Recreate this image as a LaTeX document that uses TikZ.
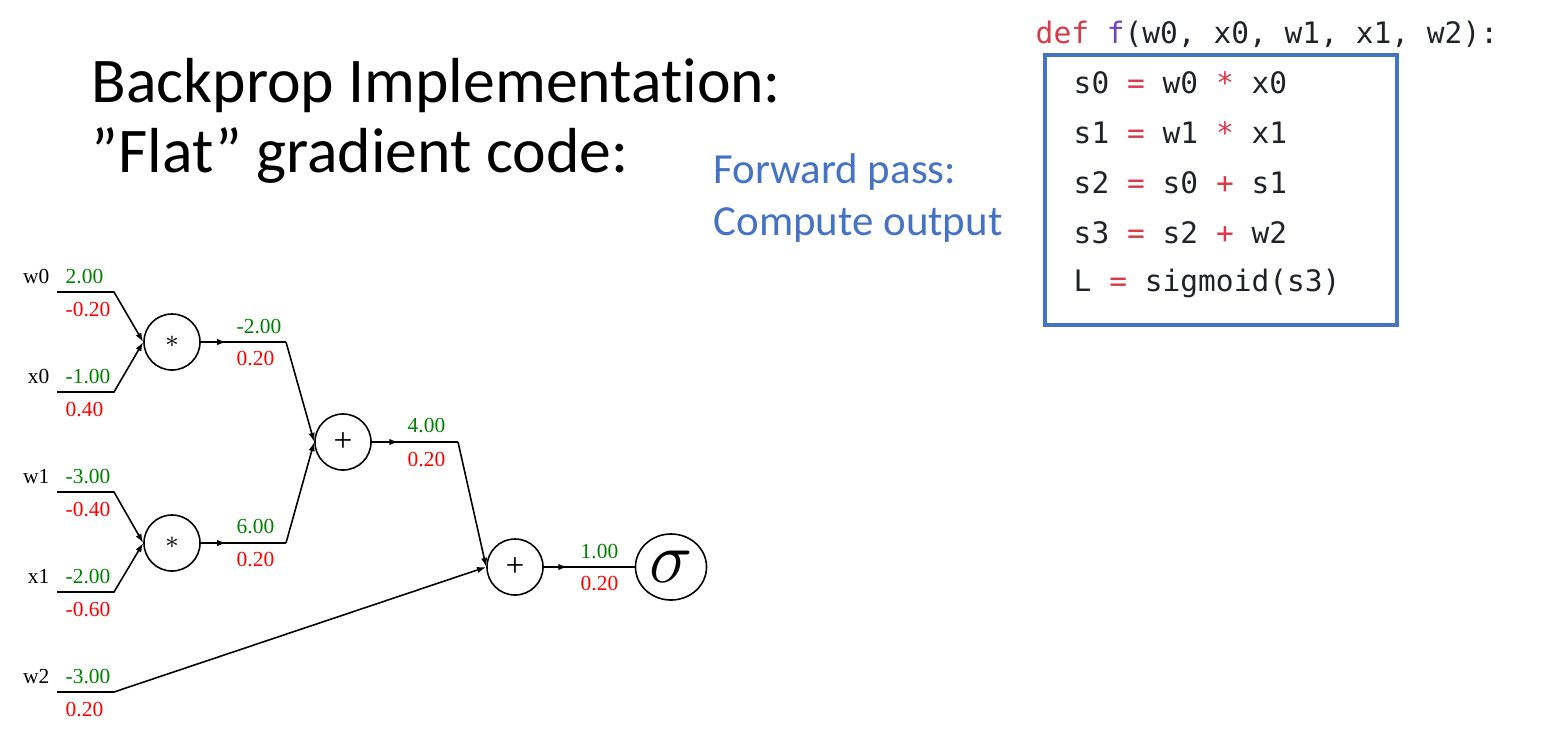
\documentclass[tikz,border=0pt]{standalone}
\usepackage{fontspec}
\usetikzlibrary{positioning}
\usetikzlibrary{arrows.meta}
\usetikzlibrary{decorations.markings}
\usetikzlibrary{shapes.geometric}
\newfontfamily\titlefont{Carlito}[Ligatures={NoCommon}]
\newfontfamily\codefont{DejaVu Sans Mono}[WordSpace={1,0,0}]
\newfontfamily\graphfont{Liberation Serif}
\definecolor{mblue}{HTML}{4472C4}
\definecolor{mgreen}{RGB}{0,128,0}
\definecolor{mred}{RGB}{255,0,0}
\definecolor{ctext}{HTML}{1F2328}
\definecolor{cred}{HTML}{D73A49}
\definecolor{cpurple}{HTML}{6F42C1}
\newcommand\codeop[1]{\textcolor{cred}{#1}}
\tikzset{heading/.style = {anchor=base west, inner sep=0, font=\titlefont\fontsize{18.1}{18.1}\selectfont}}
\tikzset{note/.style = {anchor=base west, inner sep=0, text=mblue, font=\titlefont\fontsize{12.2}{12.2}\selectfont}}
\tikzset{codeline/.style = {anchor=base west, inner sep=0, text=ctext, font=\codefont\fontsize{8.4}{8.4}\selectfont}}
\tikzset{gate/.style = {draw, circle, minimum size=0.56cm, inner sep=0, line width=0.45pt,
                        font=\graphfont\fontsize{9.5}{9.5}\selectfont}}
\tikzset{lbl/.style = {anchor=base west, inner sep=0, font=\graphfont\fontsize{6.1}{6.1}\selectfont}}
\tikzset{fwd/.style = {lbl, text=mgreen}}
\tikzset{bwd/.style = {lbl, text=mred}}
\tikzset{var/.style = {lbl, anchor=base east}}
\tikzset{wire/.style = {line width=0.45pt}}
\tikzset{into/.style = {wire, -{Latex[length=2.6pt,width=1.8pt]}}}
\tikzset{midarrow/.style = {wire, decoration={markings,
                                  mark=at position #1
                                  with {\arrow{Latex[length=2.6pt,width=1.8pt]}}},
                      postaction={decorate}}}

\begin{document}
\begin{tikzpicture}[x=0.01cm, y=-0.01cm]
  \useasboundingbox (0,0) rectangle (1558,733);
  % title and note
  \node[heading] (title1) at (91,102) {Backprop Implementation:};
  \node[heading] (title2) at (91,172) {”Flat” gradient code:};
  \node[note] (fwd1) at (713,183) {Forward pass:};
  \node[note] (fwd2) at (713,235) {Compute output};
  % code
  \node[codeline] (head) at (1035,43)
    {\textcolor{cred}{def} \textcolor{cpurple}{f}(w0, x0, w1, x1, w2):};
  \node[draw=mblue, line width=1.15pt, minimum width=3.52cm, minimum height=2.70cm]
    (codebox) at (1221,190) {};
  \node[codeline] (line0) at (1073,93)  {s0 \codeop{=} w0 \codeop{*} x0};
  \node[codeline] (line1) at (1073,143) {s1 \codeop{=} w1 \codeop{*} x1};
  \node[codeline] (line2) at (1073,193) {s2 \codeop{=} s0 \codeop{+} s1};
  \node[codeline] (line3) at (1073,243) {s3 \codeop{=} s2 \codeop{+} w2};
  \node[codeline] (line4) at (1073,291) {L \codeop{=} sigmoid(s3)};
  % gates
  \node[gate] (mul0) at (172,342) {\fontsize{7.5}{7.5}\selectfont$*$};
  \node[gate] (mul1) at (172,543) {\fontsize{7.5}{7.5}\selectfont$*$};
  \node[gate] (add0) at (343,442) {+};
  \node[gate] (add1) at (515,567) {+};
  \node[draw, ellipse, line width=0.45pt, minimum width=0.71cm, minimum height=0.66cm,
        inner sep=0, font=\fontsize{19.5}{19.5}\selectfont] (sig) at (671,567) {$\sigma$};
  % inputs
  \node[var] (w0) at (50,283) {w0};
  \node[var] (x0) at (50,383) {x0};
  \node[var] (w1) at (50,483) {w1};
  \node[var] (x1) at (50,583) {x1};
  \node[var] (w2) at (50,683) {w2};
  \node[fwd] (w0f) at (65,283) {2.00};
  \node[bwd] (w0b) at (65,316) {-0.20};
  \node[fwd] (x0f) at (65,383) {-1.00};
  \node[bwd] (x0b) at (65,416) {0.40};
  \node[fwd] (w1f) at (65,483) {-3.00};
  \node[bwd] (w1b) at (65,516) {-0.40};
  \node[fwd] (x1f) at (65,583) {-2.00};
  \node[bwd] (x1b) at (65,616) {-0.60};
  \node[fwd] (w2f) at (65,683) {-3.00};
  \node[bwd] (w2b) at (65,716) {0.20};
  \coordinate (w0s) at (57,292);  \coordinate (w0e) at (114,292);
  \coordinate (x0s) at (57,392);  \coordinate (x0e) at (114,392);
  \coordinate (w1s) at (57,492);  \coordinate (w1e) at (114,492);
  \coordinate (x1s) at (57,592);  \coordinate (x1e) at (114,592);
  \coordinate (w2s) at (57,692);  \coordinate (w2e) at (114,692);
  \draw[into] (w0s) -- (w0e) -- (mul0.west);
  \draw[into] (x0s) -- (x0e) -- (mul0.west);
  \draw[into] (w1s) -- (w1e) -- (mul1.west);
  \draw[into] (x1s) -- (x1e) -- (mul1.west);
  \draw[into] (w2s) -- (w2e) -- (add1.west);
  % intermediate values
  \coordinate (s0e) at (286,342);
  \coordinate (s1e) at (286,543);
  \coordinate (s2e) at (458,442);
  \draw[midarrow=0.3] (mul0.east) -- (s0e);
  \draw[into] (s0e) -- (add0.west);
  \draw[midarrow=0.3] (mul1.east) -- (s1e);
  \draw[into] (s1e) -- (add0.west);
  \draw[midarrow=0.31] (add0.east) -- (s2e);
  \draw[into] (s2e) -- (add1.west);
  \draw[midarrow=0.26] (add1.east) -- (sig.west);
  \node[fwd] (s0f) at (236,333) {-2.00};
  \node[bwd] (s0b) at (236,365) {0.20};
  \node[fwd] (s1f) at (236,533) {6.00};
  \node[bwd] (s1b) at (236,566) {0.20};
  \node[fwd] (s2f) at (407,432) {4.00};
  \node[bwd] (s2b) at (407,466) {0.20};
  \node[fwd] (s3f) at (580,558) {1.00};
  \node[bwd] (s3b) at (580,590) {0.20};
\end{tikzpicture}
\end{document}
